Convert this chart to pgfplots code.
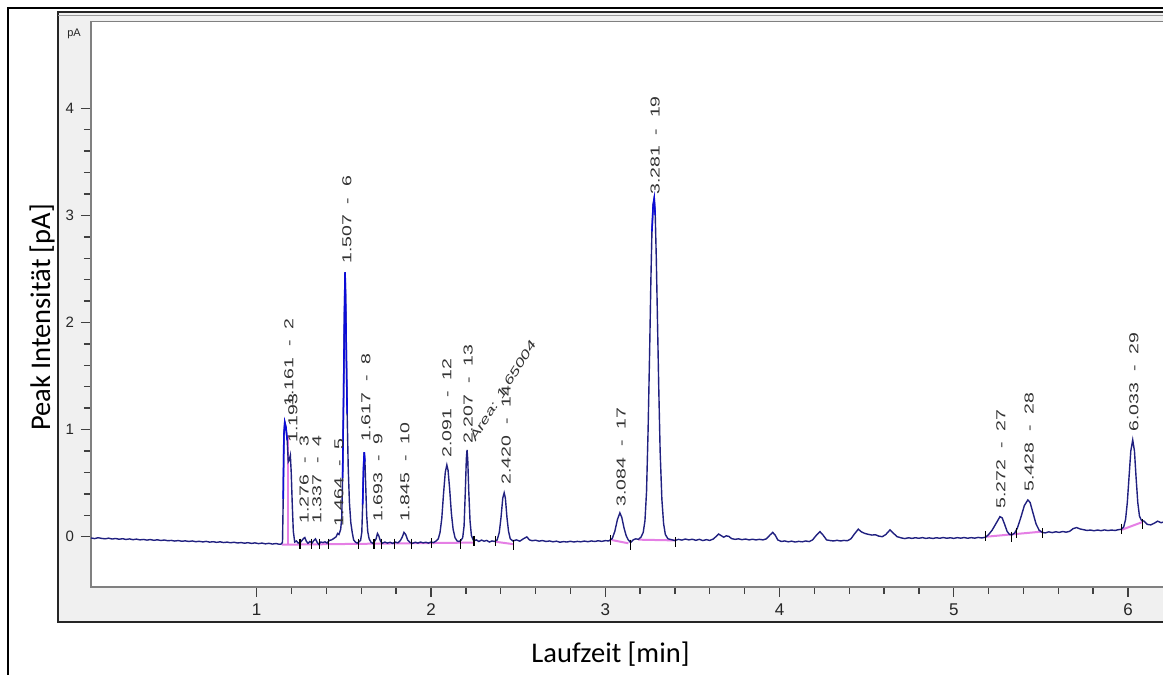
\documentclass[border=0pt]{standalone}
\usepackage{pgfplots}
\pgfplotsset{compat=1.18}
\usepackage{pgfplotstable}
\usepackage{fontspec}
\setmainfont{Liberation Sans}
\newfontfamily\calibri{Carlito}

\definecolor{trace}{RGB}{32,32,128}
\definecolor{tracehi}{RGB}{12,12,215}
\definecolor{intbase}{RGB}{225,105,225}
\definecolor{panel}{RGB}{240,240,240}

% peak annotation: retention time - peak id
\newcommand\pk[2]{#1\hspace{0.55em}-\hspace{0.55em}#2}
\tikzset{peaklbl/.style={anchor=west, rotate=90, xscale=1.5, inner sep=0pt,
  font=\fontsize{6.5pt}{7pt}\selectfont, text=black!80}}

% FID signal (t in min, signal in pA)
\pgfplotstableread{
t pA
0.049 -0.012
0.07 -0.018
0.09 -0.010
0.11 -0.016
0.13 -0.020
0.15 -0.014
0.17 -0.022
0.19 -0.017
0.21 -0.024
0.23 -0.019
0.25 -0.026
0.27 -0.021
0.29 -0.028
0.31 -0.023
0.33 -0.030
0.35 -0.026
0.37 -0.032
0.39 -0.027
0.41 -0.034
0.43 -0.029
0.45 -0.036
0.47 -0.031
0.49 -0.038
0.51 -0.035
0.53 -0.041
0.55 -0.036
0.57 -0.043
0.59 -0.039
0.61 -0.045
0.63 -0.040
0.65 -0.047
0.67 -0.043
0.69 -0.049
0.71 -0.044
0.73 -0.051
0.75 -0.047
0.77 -0.053
0.79 -0.048
0.81 -0.055
0.83 -0.051
0.85 -0.057
0.87 -0.052
0.89 -0.059
0.91 -0.055
0.93 -0.061
0.95 -0.056
0.97 -0.063
0.99 -0.058
1.01 -0.065
1.03 -0.060
1.05 -0.067
1.07 -0.062
1.09 -0.069
1.11 -0.064
1.13 -0.071
1.142 -0.068
1.148 -0.050
1.152 0.350
1.156 0.950
1.161 1.070
1.168 1.020
1.175 0.900
1.181 0.700
1.187 0.720
1.193 0.760
1.198 0.600
1.204 0.300
1.210 0.050
1.218 -0.050
1.228 -0.040
1.238 -0.060
1.250 -0.055
1.262 -0.030
1.270 -0.015
1.276 -0.008
1.284 -0.040
1.294 -0.062
1.305 -0.045
1.318 -0.058
1.328 -0.035
1.337 -0.020
1.346 -0.050
1.356 -0.072
1.368 -0.050
1.380 -0.055
1.392 -0.048
1.404 -0.060
1.416 -0.035
1.430 -0.030
1.444 -0.015
1.456 0.000
1.464 0.030
1.472 0.020
1.482 0.070
1.488 0.180
1.493 0.550
1.498 1.250
1.503 2.050
1.507 2.470
1.510 2.250
1.514 1.750
1.519 1.150
1.525 0.650
1.532 0.320
1.540 0.130
1.548 0.040
1.556 -0.030
1.566 -0.050
1.576 -0.060
1.586 -0.050
1.596 -0.035
1.603 0.040
1.608 0.300
1.613 0.650
1.617 0.790
1.621 0.700
1.626 0.450
1.631 0.200
1.637 0.050
1.645 -0.020
1.655 -0.050
1.665 -0.062
1.675 -0.048
1.685 -0.020
1.693 0.030
1.700 0.010
1.710 -0.040
1.720 -0.062
1.735 -0.050
1.750 -0.060
1.765 -0.052
1.780 -0.063
1.795 -0.050
1.810 -0.058
1.825 -0.035
1.836 0.000
1.845 0.040
1.855 0.020
1.866 -0.030
1.880 -0.055
1.895 -0.062
1.910 -0.052
1.925 -0.060
1.940 -0.050
1.955 -0.058
1.970 -0.052
1.985 -0.060
2.000 -0.050
2.015 -0.055
2.030 -0.040
2.042 -0.020
2.052 0.040
2.062 0.170
2.072 0.400
2.082 0.600
2.091 0.670
2.098 0.620
2.107 0.450
2.117 0.220
2.127 0.070
2.138 -0.010
2.150 -0.040
2.162 -0.045
2.172 -0.035
2.182 -0.010
2.190 0.100
2.197 0.420
2.203 0.730
2.207 0.810
2.211 0.720
2.217 0.420
2.224 0.150
2.232 0.010
2.245 -0.040
2.260 -0.030
2.275 -0.045
2.290 -0.032
2.305 -0.042
2.320 -0.035
2.335 -0.050
2.350 -0.040
2.365 -0.045
2.380 -0.030
2.392 0.040
2.402 0.180
2.412 0.360
2.420 0.410
2.427 0.360
2.436 0.180
2.445 0.050
2.455 -0.020
2.470 -0.040
2.490 -0.030
2.510 -0.042
2.530 -0.020
2.550 -0.002
2.565 -0.030
2.580 -0.038
2.600 -0.033
2.620 -0.042
2.640 -0.036
2.660 -0.045
2.680 -0.040
2.700 -0.048
2.720 -0.042
2.740 -0.052
2.760 -0.046
2.780 -0.050
2.800 -0.043
2.820 -0.050
2.840 -0.044
2.860 -0.048
2.880 -0.041
2.900 -0.047
2.920 -0.040
2.940 -0.045
2.960 -0.038
2.980 -0.044
3.000 -0.037
3.020 -0.040
3.040 -0.018
3.055 0.050
3.070 0.160
3.084 0.222
3.095 0.180
3.108 0.080
3.120 0.010
3.132 -0.030
3.146 -0.055
3.160 -0.030
3.175 -0.020
3.190 -0.025
3.205 -0.005
3.218 0.040
3.228 0.150
3.237 0.420
3.246 1.000
3.255 1.750
3.262 2.400
3.268 2.850
3.275 3.100
3.281 3.160
3.287 3.000
3.293 2.600
3.300 2.000
3.307 1.400
3.315 0.800
3.325 0.350
3.335 0.120
3.345 0.020
3.360 -0.020
3.380 -0.028
3.400 -0.036
3.420 -0.025
3.440 -0.032
3.460 -0.022
3.480 -0.030
3.500 -0.024
3.520 -0.034
3.540 -0.025
3.560 -0.036
3.580 -0.028
3.600 -0.035
3.620 -0.022
3.635 0.000
3.650 0.025
3.665 0.010
3.680 -0.005
3.695 0.008
3.710 0.002
3.725 -0.018
3.745 -0.025
3.765 -0.020
3.785 -0.028
3.805 -0.022
3.825 -0.030
3.845 -0.024
3.865 -0.030
3.885 -0.025
3.905 -0.030
3.925 -0.020
3.945 0.015
3.961 0.040
3.975 0.015
3.990 -0.030
4.010 -0.045
4.030 -0.040
4.050 -0.048
4.070 -0.042
4.090 -0.050
4.110 -0.044
4.130 -0.048
4.150 -0.040
4.170 -0.046
4.190 -0.030
4.210 0.010
4.232 0.047
4.250 0.015
4.270 -0.030
4.290 -0.036
4.310 -0.040
4.330 -0.034
4.350 -0.040
4.370 -0.035
4.390 -0.038
4.410 -0.020
4.430 0.025
4.452 0.070
4.470 0.045
4.490 0.030
4.510 0.022
4.530 0.015
4.550 0.018
4.570 0.005
4.590 0.000
4.610 0.020
4.634 0.063
4.655 0.030
4.675 0.000
4.700 -0.012
4.720 -0.018
4.740 -0.010
4.760 -0.016
4.780 -0.010
4.800 -0.015
4.820 -0.009
4.840 -0.016
4.860 -0.011
4.880 -0.017
4.900 -0.010
4.920 -0.015
4.940 -0.008
4.960 -0.015
4.980 -0.010
5.000 -0.016
5.020 -0.009
5.040 -0.014
5.060 -0.008
5.080 -0.015
5.100 -0.009
5.120 -0.014
5.140 -0.007
5.160 -0.012
5.183 -0.005
5.200 0.020
5.220 0.060
5.245 0.130
5.265 0.187
5.278 0.175
5.292 0.115
5.306 0.050
5.320 0.020
5.335 0.018
5.350 0.035
5.365 0.080
5.385 0.180
5.405 0.290
5.425 0.343
5.438 0.320
5.455 0.220
5.472 0.120
5.490 0.060
5.508 0.040
5.525 0.035
5.545 0.045
5.565 0.038
5.585 0.046
5.605 0.040
5.625 0.048
5.645 0.042
5.665 0.050
5.685 0.075
5.705 0.085
5.725 0.072
5.745 0.065
5.765 0.058
5.785 0.062
5.805 0.055
5.825 0.062
5.845 0.056
5.865 0.063
5.885 0.057
5.905 0.062
5.925 0.058
5.945 0.065
5.962 0.070
5.975 0.090
5.986 0.160
5.996 0.320
6.006 0.560
6.016 0.800
6.027 0.903
6.037 0.800
6.046 0.560
6.056 0.320
6.066 0.190
6.078 0.150
6.092 0.145
6.110 0.115
6.130 0.110
6.150 0.125
6.170 0.145
6.190 0.130
6.210 0.140
}\signal

\begin{document}
\begin{tikzpicture}
\path[use as bounding box] (0,0) rectangle (581.5pt,337.5pt);
\clip (0,0) rectangle (581.5pt,337.5pt);

% outer frame
\draw[black, line width=1pt] (4pt,-2pt) -- (4pt,333.5pt) -- (600pt,333.5pt);
% grey instrument panel
\fill[panel] (29pt,26.5pt) rectangle (600pt,331.5pt);
\draw[black!85, line width=0.7pt] (600pt,331.5pt) -- (29pt,331.5pt) -- (29pt,26.5pt) -- (600pt,26.5pt);
\draw[black!40, line width=0.6pt] (29pt,329.8pt) -- (600pt,329.8pt);

\begin{axis}[
  at={(45.5pt,44pt)}, anchor=south west,
  scale only axis, width=536.8pt, height=282.7pt,
  xmin=0.049, xmax=6.21, ymin=-0.47, ymax=4.81,
  axis line style={draw=black!50, line width=0.6pt},
  axis background/.style={fill=white},
  xtick pos=lower, ytick pos=left,
  xtick={1,2,3,4,5,6}, ytick={0,1,2,3,4},
  minor x tick num=4, minor y tick num=4,
  tick align=outside,
  major tick length=5pt, minor tick length=3.5pt,
  every tick/.style={black!75, line width=0.7pt},
  every minor tick/.style={black!75, line width=0.7pt},
  xticklabel style={font=\fontsize{8.5pt}{9pt}\selectfont, text=black!85},
  yticklabel style={font=\fontsize{7.5pt}{8pt}\selectfont, text=black!85},
  /pgf/number format/assume math mode=true,
  clip=true,
]
% integration baselines
\addplot[intbase, line width=1pt, opacity=0.85] coordinates {(1.145,-0.075) (2.25,-0.055)};
\addplot[intbase, line width=1pt, opacity=0.85] coordinates {(1.181,-0.070) (1.181,0.950)};
\addplot[intbase, line width=1pt, opacity=0.85] coordinates {(2.368,-0.047) (2.473,-0.070)};
\addplot[intbase, line width=1pt, opacity=0.85] coordinates {(3.037,-0.031) (3.133,-0.062)};
\addplot[intbase, line width=1pt, opacity=0.85] coordinates {(3.190,-0.028) (3.400,-0.035)};
\addplot[intbase, line width=1pt, opacity=0.85] coordinates {(5.189,0.000) (5.505,0.047)};
\addplot[intbase, line width=1pt, opacity=0.85] coordinates {(5.965,0.065) (6.080,0.135)};

% signal
\addplot[trace, line width=0.7pt] table[x=t, y=pA] {\signal};
% brighter tips of the large peaks
\addplot[tracehi, line width=0.8pt] coordinates {(1.152,0.350) (1.156,0.950) (1.161,1.070) (1.168,1.020) (1.175,0.900)};
\addplot[tracehi, line width=0.8pt] coordinates {(1.493,0.550) (1.498,1.250) (1.503,2.050) (1.507,2.470) (1.510,2.250) (1.514,1.750) (1.519,1.150)};
\addplot[tracehi, line width=0.8pt] coordinates {(1.608,0.300) (1.613,0.650) (1.617,0.790) (1.621,0.700)};
\addplot[tracehi, line width=0.8pt] coordinates {(3.268,2.850) (3.275,3.100) (3.281,3.160) (3.287,3.000)};

% peak start / end markers
\addplot[only marks, mark=|, mark size=2.5pt, black, mark options={line width=0.6pt}] coordinates {
(1.248,-0.065) (1.315,-0.065) (1.359,-0.065) (1.411,-0.065) (1.583,-0.065)
(1.673,-0.065) (1.717,-0.065) (1.790,-0.065) (1.890,-0.065) (2.004,-0.060)
(2.170,-0.070) (2.247,-0.040) (2.368,-0.040) (2.473,-0.075) (3.028,-0.030)
(3.146,-0.075) (3.402,-0.050) (5.183,0.005) (5.330,0.000) (5.359,0.035)
(5.508,0.030) (5.961,0.075) (6.082,0.120)};

% peak annotations
\node[peaklbl] at (axis cs:1.208,0.875) {1.193};
\node[peaklbl] at (axis cs:1.185,1.211) {\pk{1.161}{2}};
\node[peaklbl] at (axis cs:1.272,0.119) {\pk{1.276}{3}};
\node[peaklbl] at (axis cs:1.346,0.119) {\pk{1.337}{4}};
\node[peaklbl] at (axis cs:1.472,0.091) {\pk{1.464}{5}};
\node[peaklbl] at (axis cs:1.518,2.545) {\pk{1.507}{6}};
\node[peaklbl] at (axis cs:1.627,0.884) {\pk{1.617}{8}};
\node[peaklbl] at (axis cs:1.696,0.137) {\pk{1.693}{9}};
\node[peaklbl] at (axis cs:1.851,0.137) {\pk{1.845}{10}};
\node[peaklbl] at (axis cs:2.092,0.735) {\pk{2.091}{12}};
\node[peaklbl] at (axis cs:2.213,0.866) {\pk{2.207}{13}};
\node[peaklbl] at (axis cs:2.431,0.483) {\pk{2.420}{14}};
\node[peaklbl] at (axis cs:3.091,0.277) {\pk{3.084}{17}};
\node[peaklbl] at (axis cs:3.286,3.189) {\pk{3.281}{19}};
\node[peaklbl] at (axis cs:5.271,0.259) {\pk{5.272}{27}};
\node[peaklbl] at (axis cs:5.432,0.417) {\pk{5.428}{28}};
\node[peaklbl] at (axis cs:6.034,0.978) {\pk{6.033}{29}};
\node[anchor=west, rotate=58, xscale=1.5, inner sep=0pt, text=black!80,
  font=\itshape\fontsize{6pt}{7pt}\selectfont] at (axis cs:2.236,0.903) {Area: 1.65004};
\end{axis}

% unit tag on the signal axis
\node[font=\fontsize{5.5pt}{6pt}\selectfont, text=black!85, inner sep=0pt] at (37pt,320.5pt) {pA};

% axis titles
\node[anchor=base, rotate=90, inner sep=0pt,
  font=\calibri\fontsize{14.25pt}{16pt}\selectfont] at (25pt,178.75pt) {Peak Intensität [pA]};
\node[anchor=base, inner sep=0pt,
  font=\calibri\fontsize{14.25pt}{16pt}\selectfont] at (305.25pt,6pt) {Laufzeit [min]};
\end{tikzpicture}
\end{document}
